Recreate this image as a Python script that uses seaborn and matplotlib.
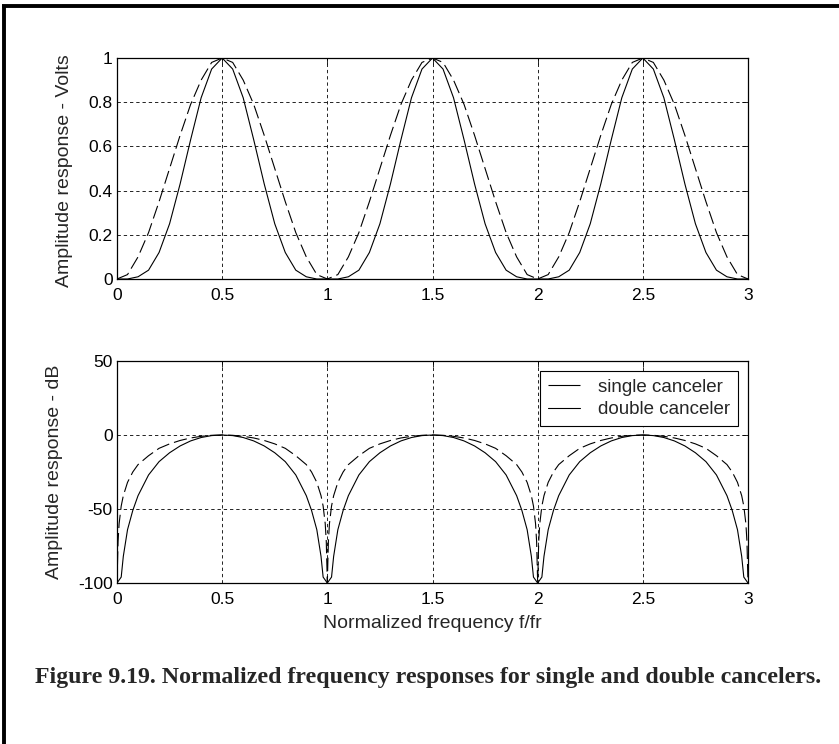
import matplotlib
matplotlib.use("Agg")
import matplotlib.pyplot as plt
from matplotlib.lines import Line2D
import seaborn as sns

# ---------------- data ----------------
freq_amp = [0.00, 0.05, 0.10, 0.15, 0.20, 0.25, 0.30, 0.35, 0.40, 0.45,
            0.50, 0.55, 0.60, 0.65, 0.70, 0.75, 0.80, 0.85, 0.90, 0.95,
            1.00, 1.05, 1.10, 1.15, 1.20, 1.25, 1.30, 1.35, 1.40, 1.45,
            1.50, 1.55, 1.60, 1.65, 1.70, 1.75, 1.80, 1.85, 1.90, 1.95,
            2.00, 2.05, 2.10, 2.15, 2.20, 2.25, 2.30, 2.35, 2.40, 2.45,
            2.50, 2.55, 2.60, 2.65, 2.70, 2.75, 2.80, 2.85, 2.90, 2.95,
            3.00]
single_amp = [0.00, 0.02, 0.10, 0.21, 0.35, 0.50, 0.65, 0.79, 0.90, 0.98,
              1.00, 0.98, 0.90, 0.79, 0.65, 0.50, 0.35, 0.21, 0.10, 0.02,
              0.00, 0.02, 0.10, 0.21, 0.35, 0.50, 0.65, 0.79, 0.90, 0.98,
              1.00, 0.98, 0.90, 0.79, 0.65, 0.50, 0.35, 0.21, 0.10, 0.02,
              0.00, 0.02, 0.10, 0.21, 0.35, 0.50, 0.65, 0.79, 0.90, 0.98,
              1.00, 0.98, 0.90, 0.79, 0.65, 0.50, 0.35, 0.21, 0.10, 0.02,
              0.00]
double_amp = [0.00, 0.00, 0.01, 0.04, 0.12, 0.25, 0.43, 0.63, 0.82, 0.95,
              1.00, 0.95, 0.82, 0.63, 0.43, 0.25, 0.12, 0.04, 0.01, 0.00,
              0.00, 0.00, 0.01, 0.04, 0.12, 0.25, 0.43, 0.63, 0.82, 0.95,
              1.00, 0.95, 0.82, 0.63, 0.43, 0.25, 0.12, 0.04, 0.01, 0.00,
              0.00, 0.00, 0.01, 0.04, 0.12, 0.25, 0.43, 0.63, 0.82, 0.95,
              1.00, 0.95, 0.82, 0.63, 0.43, 0.25, 0.12, 0.04, 0.01, 0.00,
              0.00]

freq_db_single = [0.000, 0.005, 0.010, 0.020, 0.030, 0.050, 0.075, 0.100, 0.150, 0.200,
                  0.250, 0.300, 0.350, 0.400, 0.450, 0.500, 0.550, 0.600, 0.650, 0.700,
                  0.750, 0.800, 0.850, 0.900, 0.925, 0.950, 0.970, 0.980, 0.990, 0.995,
                  1.000, 1.005, 1.010, 1.020, 1.030, 1.050, 1.075, 1.100, 1.150, 1.200,
                  1.250, 1.300, 1.350, 1.400, 1.450, 1.500, 1.550, 1.600, 1.650, 1.700,
                  1.750, 1.800, 1.850, 1.900, 1.925, 1.950, 1.970, 1.980, 1.990, 1.995,
                  2.000, 2.005, 2.010, 2.020, 2.030, 2.050, 2.075, 2.100, 2.150, 2.200,
                  2.250, 2.300, 2.350, 2.400, 2.450, 2.500, 2.550, 2.600, 2.650, 2.700,
                  2.750, 2.800, 2.850, 2.900, 2.925, 2.950, 2.970, 2.980, 2.990, 2.995,
                  3.000]
single_db = [-100, -72, -60, -48, -41, -32, -25, -20, -14, -9,
             -6, -3.7, -2, -0.9, -0.2, 0, -0.2, -0.9, -2, -3.7,
             -6, -9, -14, -20, -25, -32, -41, -48, -60, -72,
             -100, -72, -60, -48, -41, -32, -25, -20, -14, -9,
             -6, -3.7, -2, -0.9, -0.2, 0, -0.2, -0.9, -2, -3.7,
             -6, -9, -14, -20, -25, -32, -41, -48, -60, -72,
             -100, -72, -60, -48, -41, -32, -25, -20, -14, -9,
             -6, -3.7, -2, -0.9, -0.2, 0, -0.2, -0.9, -2, -3.7,
             -6, -9, -14, -20, -25, -32, -41, -48, -60, -72,
             -100]

freq_db_double = [0.000, 0.020, 0.030, 0.050, 0.075, 0.100, 0.150, 0.200, 0.250, 0.300,
                  0.350, 0.400, 0.450, 0.500, 0.550, 0.600, 0.650, 0.700, 0.750, 0.800,
                  0.850, 0.900, 0.925, 0.950, 0.970, 0.980,
                  1.000, 1.020, 1.030, 1.050, 1.075, 1.100, 1.150, 1.200, 1.250, 1.300,
                  1.350, 1.400, 1.450, 1.500, 1.550, 1.600, 1.650, 1.700, 1.750, 1.800,
                  1.850, 1.900, 1.925, 1.950, 1.970, 1.980,
                  2.000, 2.020, 2.030, 2.050, 2.075, 2.100, 2.150, 2.200, 2.250, 2.300,
                  2.350, 2.400, 2.450, 2.500, 2.550, 2.600, 2.650, 2.700, 2.750, 2.800,
                  2.850, 2.900, 2.925, 2.950, 2.970, 2.980,
                  3.000]
double_db = [-100, -96, -82, -64, -51, -41, -27, -18, -12, -7.4,
             -4, -1.7, -0.4, 0, -0.4, -1.7, -4, -7.4, -12, -18,
             -27, -41, -51, -64, -82, -96,
             -100, -96, -82, -64, -51, -41, -27, -18, -12, -7.4,
             -4, -1.7, -0.4, 0, -0.4, -1.7, -4, -7.4, -12, -18,
             -27, -41, -51, -64, -82, -96,
             -100, -96, -82, -64, -51, -41, -27, -18, -12, -7.4,
             -4, -1.7, -0.4, 0, -0.4, -1.7, -4, -7.4, -12, -18,
             -27, -41, -51, -64, -82, -96,
             -100]

x_ticks = [0, 0.5, 1, 1.5, 2, 2.5, 3]
x_ticklabels = ["0", "0.5", "1", "1.5", "2", "2.5", "3"]
amp_ticks = [0, 0.2, 0.4, 0.6, 0.8, 1]
amp_ticklabels = ["0", "0.2", "0.4", "0.6", "0.8", "1"]
db_ticks = [-100, -50, 0, 50]
db_ticklabels = ["-100", "-50", "0", "50"]
series_labels = ["single canceler", "double canceler"]
caption = "Figure 9.19. Normalized frequency responses for single and double cancelers."

# ---------------- style ----------------
sns.set_style("white")
plt.rcParams["font.family"] = ["Liberation Sans", "DejaVu Sans"]
plt.rcParams["axes.linewidth"] = 0.9

W, H = 839, 744
fig = plt.figure(figsize=(W / 100, H / 100), dpi=100)
fig.patch.set_facecolor("white")

def ax_rect(left, top, right, bottom):
    return [left / W, 1 - bottom / H, (right - left) / W, (bottom - top) / H]

ax1 = fig.add_axes(ax_rect(117, 58, 748, 279))
ax2 = fig.add_axes(ax_rect(117, 361, 748, 583))

dash_style = (0, (12, 4.5))
lw = 0.8
TICK_FS = 12.5
LABEL_FS = 14

sns.lineplot(x=freq_amp, y=single_amp, ax=ax1, color="k", lw=lw,
             linestyle=dash_style, estimator=None, errorbar=None)
sns.lineplot(x=freq_amp, y=double_amp, ax=ax1, color="k", lw=lw,
             estimator=None, errorbar=None)

sns.lineplot(x=freq_db_single, y=single_db, ax=ax2, color="k", lw=lw,
             linestyle=dash_style, estimator=None, errorbar=None,
             label=series_labels[0])
sns.lineplot(x=freq_db_double, y=double_db, ax=ax2, color="k", lw=lw,
             estimator=None, errorbar=None, label=series_labels[1])

for ax in (ax1, ax2):
    ax.set_xlim(0, 3)
    ax.set_xticks(x_ticks)
    ax.set_xticklabels(x_ticklabels)
    ax.grid(True, color="k", linestyle=(0, (4, 3.5)), linewidth=0.6)
    ax.tick_params(direction="in", length=4, width=0.6, top=True, right=True,
                   labelsize=TICK_FS, colors="k")
    ax.tick_params(axis="x", pad=6.5)
    ax.tick_params(axis="y", pad=3)
    for s in ax.spines.values():
        s.set_color("k")
        s.set_linewidth(0.9)
        s.set_visible(True)

ax1.set_ylim(0, 1)
ax1.set_yticks(amp_ticks)
ax1.set_yticklabels(amp_ticklabels)
ax1.set_xlabel("")
ax1.set_ylabel("Amplitude response - Volts", fontsize=LABEL_FS)
ax1.yaxis.set_label_coords(-0.070, 0.49)

ax2.set_ylim(-100, 50)
ax2.set_yticks(db_ticks)
ax2.set_yticklabels(db_ticklabels)
ax2.set_ylabel("Amplitude response - dB", fontsize=LABEL_FS)
ax2.yaxis.set_label_coords(-0.0856, 0.5)
ax2.set_xlabel("Normalized frequency f/fr", fontsize=LABEL_FS)
ax2.xaxis.set_label_coords(0.5, -0.145)

leg = ax2.legend(loc="upper right", bbox_to_anchor=(0.984, 0.955),
                 borderaxespad=0, fontsize=13.5, frameon=True, fancybox=False,
                 framealpha=1, edgecolor="k", handlelength=1.7,
                 handletextpad=1.0, labelspacing=0.3, borderpad=0.4)
leg.get_frame().set_linewidth(0.8)
leg.legend_handles[0].set_linestyle((0, (40, 5)))

# caption
fig.text(428 / W, 1 - 678 / H, caption, ha="center", va="center",
         fontsize=17.2, fontweight="bold", family=["Liberation Serif", "DejaVu Serif"])

# outer frame (left and top edges)
fig.add_artist(Line2D([4 / W, 4 / W], [0, 1 - 6 / H], transform=fig.transFigure,
                      color="k", lw=2.8, solid_capstyle="butt"))
fig.add_artist(Line2D([4 / W - 0.002, 1], [1 - 6 / H, 1 - 6 / H], transform=fig.transFigure,
                      color="k", lw=2.8, solid_capstyle="butt"))

fig.savefig("out.png", dpi=100)
